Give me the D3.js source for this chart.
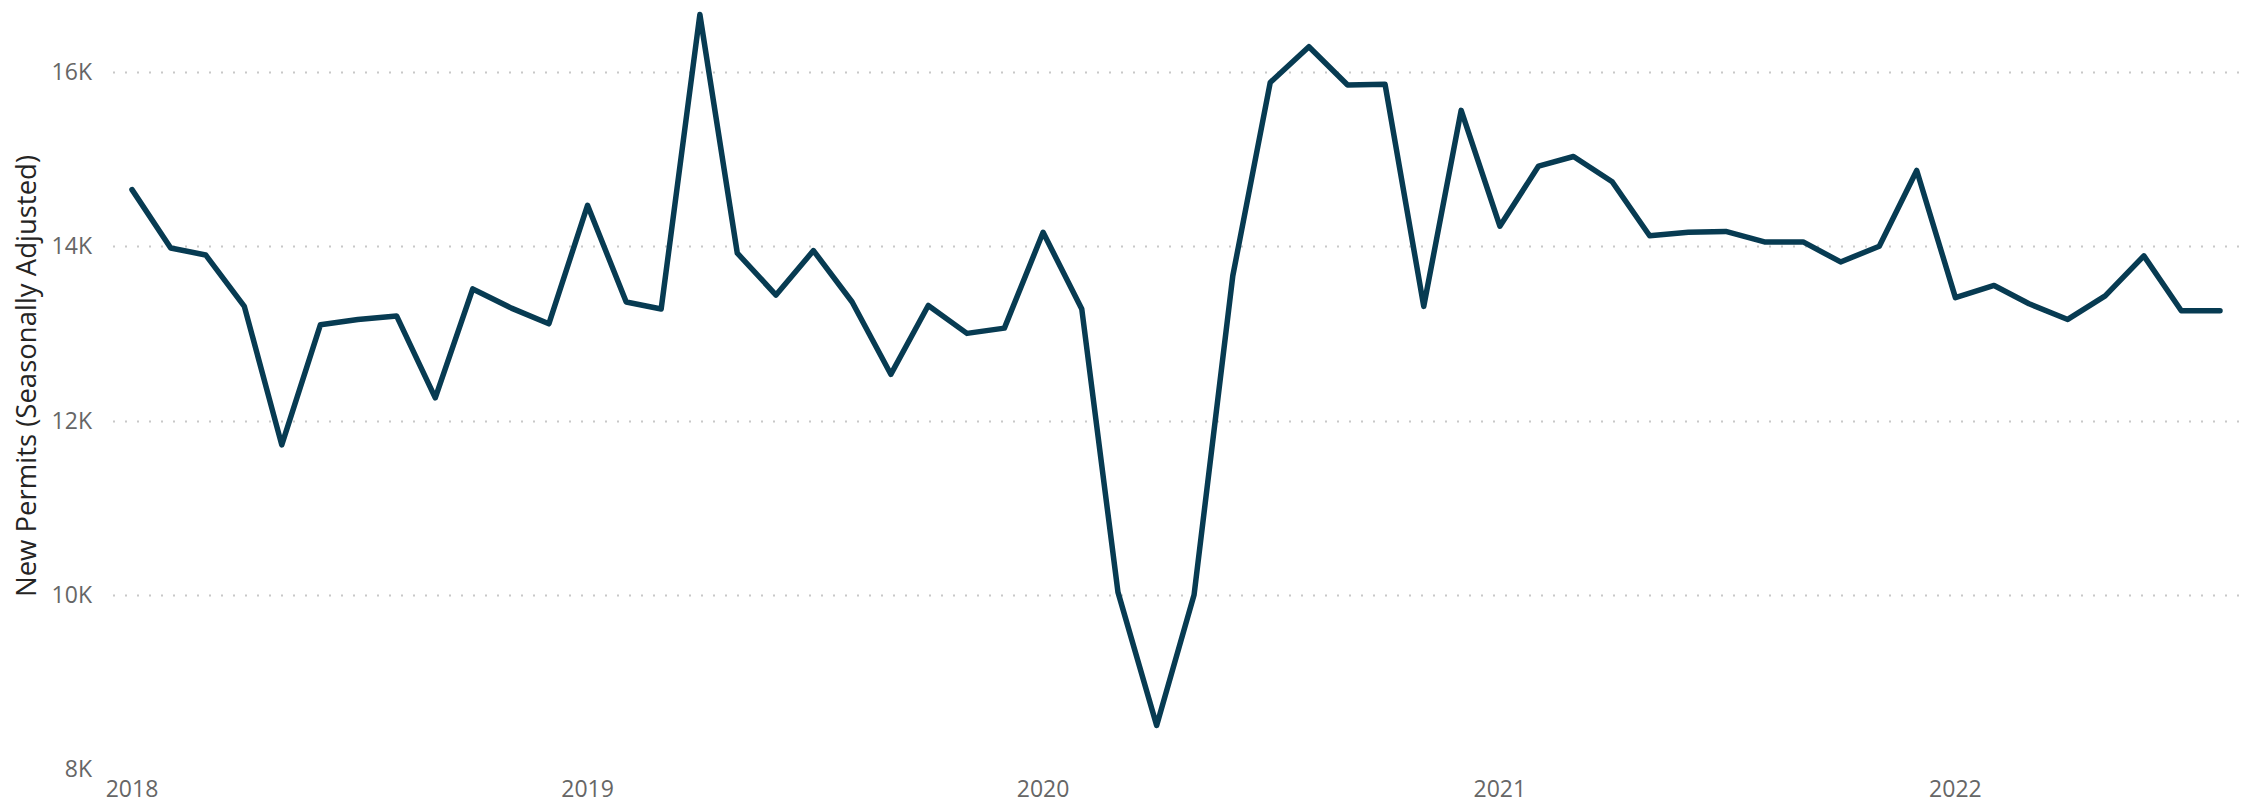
<!DOCTYPE html>
<html>
<head>
<meta charset="utf-8">
<script src="https://cdn.jsdelivr.net/npm/d3@7"></script>
<style>
  body { margin: 0; background: #fff; }
  .canvas { width: 2255px; height: 804px; }
  .tick-label { font-family: "Open Sans", sans-serif; font-size: 23px; fill: #666; }
  .axis-title { font-family: "Open Sans", sans-serif; font-size: 27.5px; fill: #252423; }
</style>
</head>
<body>
<div class="canvas"></div>
<script>
// monthly new permits, Jan 2018 - Aug 2022
const startMonth = "2018-01";
const permits = [
  14650, 13980, 13900, 13310, 11720, 13100, 13160, 13200, 12260, 13510, 13290, 13110,
  14470, 13360, 13280, 16660, 13920, 13440, 13950, 13360, 12530, 13320, 13000, 13060,
  14160, 13280, 10030, 8500, 10000, 13660, 15880, 16290, 15850, 15860, 13310, 15560,
  14230, 14920, 15030, 14740, 14120, 14160, 14170, 14050, 14050, 13820, 14000, 14870,
  13410, 13550, 13340, 13160, 13430, 13890, 13260, 13260
];
const yTicks = [8000, 10000, 12000, 14000, 16000];
const xTickYears = [2018, 2019, 2020, 2021, 2022];

const width = 2255;
const height = 804;

const parseMonth = d3.timeParse("%Y-%m");
const data = permits.map((v, i) => ({
  date: d3.timeMonth.offset(parseMonth(startMonth), i),
  value: v,
}));

const svg = d3
  .select(".canvas")
  .append("svg")
  .attr("width", width)
  .attr("height", height);

const x = d3
  .scaleTime()
  .domain(d3.extent(data, (d) => d.date))
  .range([132, 2220]);

const y = d3.scaleLinear().domain([8000, 16000]).range([769, 72]);

// dotted gridlines (none at the baseline)
svg
  .append("g")
  .selectAll("line")
  .data(yTicks.filter((t) => t > 8000))
  .enter()
  .append("line")
  .attr("x1", 113)
  .attr("x2", 2240)
  .attr("y1", (d) => Math.round(y(d)) + 0.5)
  .attr("y2", (d) => Math.round(y(d)) + 0.5)
  .attr("stroke", "#c8c8c8")
  .attr("stroke-width", 2)
  .attr("stroke-dasharray", "2,10");

// y tick labels
svg
  .append("g")
  .selectAll("text")
  .data(yTicks)
  .enter()
  .append("text")
  .attr("class", "tick-label")
  .attr("x", 92)
  .attr("y", (d) => y(d))
  .attr("dy", "0.35em")
  .attr("text-anchor", "end")
  .text((d) => d3.format("d")(d / 1000) + "K");

// x tick labels
svg
  .append("g")
  .selectAll("text")
  .data(xTickYears)
  .enter()
  .append("text")
  .attr("class", "tick-label")
  .attr("x", (d) => x(new Date(d, 0, 1)))
  .attr("y", 797)
  .attr("text-anchor", "middle")
  .text((d) => d);

// axis title
svg
  .append("text")
  .attr("class", "axis-title")
  .attr("transform", "translate(36, 376) rotate(-90)")
  .attr("text-anchor", "middle")
  .text("New Permits (Seasonally Adjusted)");

const line = d3
  .line()
  .x((d) => x(d.date))
  .y((d) => y(d.value));

svg
  .append("path")
  .datum(data)
  .attr("d", line)
  .attr("fill", "none")
  .attr("stroke", "#073b52")
  .attr("stroke-width", 5.5)
  .attr("stroke-linejoin", "round")
  .attr("stroke-linecap", "round");
</script>
</body>
</html>
